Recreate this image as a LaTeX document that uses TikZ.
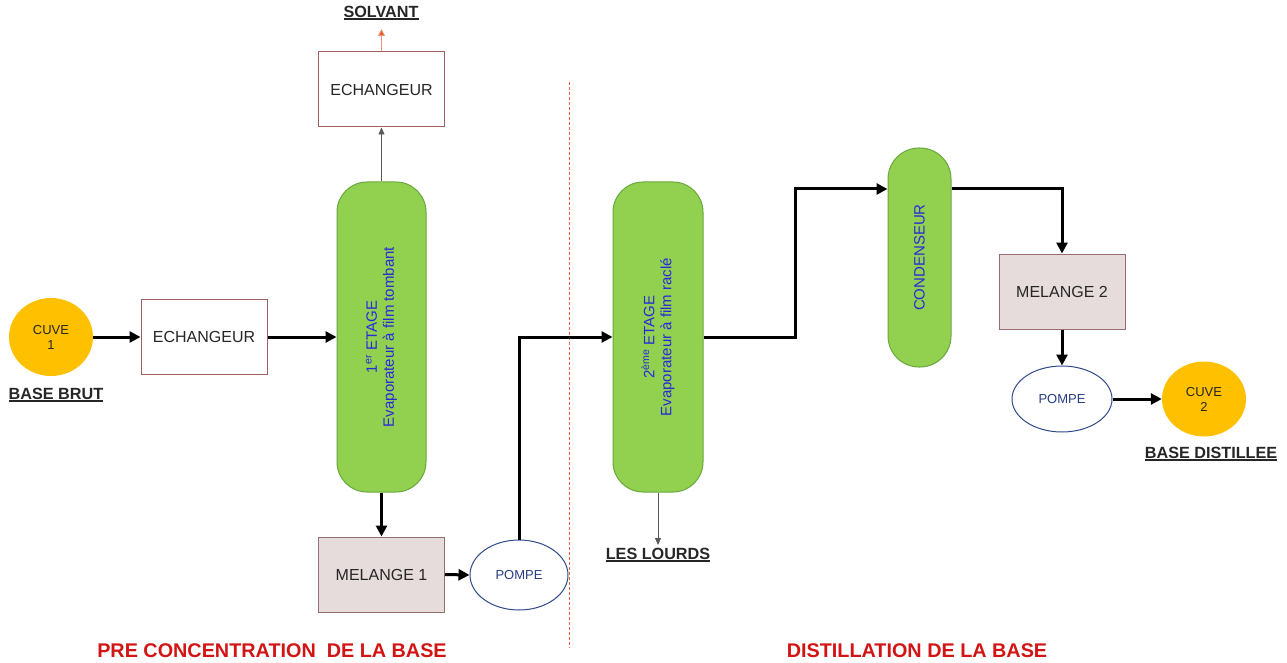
\documentclass[tikz,border=0pt]{standalone}
\usepackage{fontspec}
\setmainfont{Liberation Sans}
\usetikzlibrary{shapes.geometric,arrows.meta,calc}

\definecolor{cuvefill}{RGB}{255,192,0}
\definecolor{evapfill}{RGB}{146,208,80}
\definecolor{evapline}{RGB}{104,168,60}
\definecolor{evaptext}{RGB}{40,40,220}
\definecolor{boxline}{RGB}{160,96,96}
\definecolor{mixfill}{RGB}{230,220,219}
\definecolor{mixline}{RGB}{150,110,110}
\definecolor{pumpline}{RGB}{47,75,138}
\definecolor{pumptext}{RGB}{40,60,130}
\definecolor{solvline}{RGB}{240,150,120}
\definecolor{solvhead}{RGB}{226,90,40}
\definecolor{titlered}{RGB}{210,20,20}
\definecolor{sepline}{RGB}{235,95,55}

% bold text with a heavy underline
\newcommand\ulbold[1]{\leavevmode\setbox0\hbox{\bfseries #1}\rlap{\rule[-2.6pt]{\wd0}{1.6pt}}\box0}

\tikzset{
  tank/.style={ellipse, fill=cuvefill, draw=none, inner sep=0pt, align=center,
    font=\fontsize{13}{15}\selectfont, text=black!85},
  exchbox/.style={rectangle, draw=boxline, line width=1pt, fill=white,
    minimum width=126pt, minimum height=75pt, inner sep=0pt,
    font=\fontsize{16}{19}\selectfont, text=black!85},
  mixbox/.style={exchbox, fill=mixfill, draw=mixline},
  evapbox/.style={rectangle, rounded corners=30pt, fill=evapfill, draw=evapline,
    line width=1pt, inner sep=0pt, align=center, text=evaptext,
    font=\fontsize{15}{17}\selectfont},
  pumpbox/.style={ellipse, draw=pumpline, line width=1pt, fill=white, inner sep=0pt,
    text=pumptext, font=\fontsize{13}{15}\selectfont},
  caption/.style={font=\fontsize{16.2}{19}\selectfont, text=black!85},
  areatitle/.style={font=\fontsize{19.8}{23}\selectfont\bfseries, text=titlered},
  flow/.style={line width=3pt, -{Triangle[length=11pt,width=11pt]}},
  thinflow/.style={line width=0.8pt, draw=black!65, -{Triangle[length=7pt,width=6pt]}},
}

\begin{document}
\begin{tikzpicture}[x=1pt,y=-1pt]
\useasboundingbox (0,0) rectangle (1287,663);

% equipment (the evaporators and the condenser stand upright: rotated by 90 degrees,
% so local north faces left, south faces right, east faces up and west faces down)
\node[tank, minimum width=84pt, minimum height=78pt] (cuve1) at (51,337) {CUVE\\1};
\node[exchbox] (ech1) at (204,337) {ECHANGEUR};
\node[evapbox, minimum width=310pt, minimum height=89pt, rotate=90] (ev1) at (381.5,337)
  {1\textsuperscript{er} ETAGE\\Evaporateur à film tombant};
\node[exchbox] (ech2) at (381.5,89.5) {ECHANGEUR};
\node[mixbox] (m1) at (381.5,574.5) {MELANGE 1};
\node[pumpbox, minimum width=98pt, minimum height=70pt] (p1) at (519,575) {POMPE};
\node[evapbox, minimum width=310pt, minimum height=90pt, rotate=90] (ev2) at (658,337)
  {2\textsuperscript{ème} ETAGE\\Evaporateur à film raclé};
\node[evapbox, rounded corners=31pt, minimum width=219pt, minimum height=63pt, rotate=90] (cond) at (919.5,257.5)
  {CONDENSEUR};
\node[mixbox] (m2) at (1062,291.5) {MELANGE 2};
\node[pumpbox, minimum width=100pt, minimum height=66pt] (p2) at (1062,399) {POMPE};
\node[tank, minimum width=84pt, minimum height=75pt] (cuve2) at (1204,399) {CUVE\\2};

% stream labels
\node[caption] (brut) at (56,395) {\ulbold{BASE BRUT}};
\node[caption] (solv) at (381,13) {\ulbold{SOLVANT}};
\node[caption] (lourds) at (658,555) {\ulbold{LES LOURDS}};
\node[caption] (dist) at (1211,454) {\ulbold{BASE DISTILLEE}};
\coordinate (solvout) at (381.5,29);
\coordinate (lourdsout) at (658,545);

% section titles
\node[areatitle] (t1) at (272,651) {PRE CONCENTRATION\ \ DE LA BASE};
\node[areatitle] (t2) at (917,651) {DISTILLATION DE LA BASE};

% separation between the two sections
\draw[sepline, line width=1pt, dash pattern=on 3pt off 2pt] (569,82) -- (569,648);

% main flow
\draw[flow] (cuve1.east) -- (ech1.west);
\draw[flow] (ech1.east) -- (ev1.north);
\draw[flow] (ev1.west) -- (m1.north);
\draw[flow] (m1.east) -- (p1.west);
\draw[flow] (p1.north) |- (ev2.north);
\draw[flow] (ev2.south) -- ++(92,0) |- ($(cond.north)+(0,-68.5)$);
\draw[flow] ($(cond.south)+(0,-68.5)$) -| (m2.north);
\draw[flow] (m2.south) -- (p2.north);
\draw[flow] (p2.east) -- (cuve2.west);

% side streams
\draw[thinflow] (ev1.east) -- (ech2.south);
\draw[line width=0.8pt, draw=solvline, -{Triangle[length=7pt,width=7pt,fill=solvhead]}] (ech2.north) -- (solvout);
\draw[thinflow] (ev2.west) -- (lourdsout);
\end{tikzpicture}
\end{document}
